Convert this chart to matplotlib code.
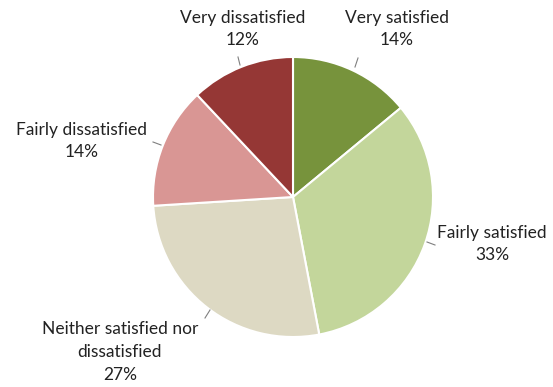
import matplotlib.pyplot as plt

labels = ["Very satisfied", "Fairly satisfied", "Neither satisfied nor\ndissatisfied",
          "Fairly dissatisfied", "Very dissatisfied"]
values = [14, 33, 27, 14, 12]
colors = ["#77933C", "#C3D69B", "#DDD9C3", "#D99694", "#953735"]

# label text centres and leader lines (pixel coords, y from top)
label_pos = [(397, 29), (492, 244), (120, 352), (82, 141), (243, 29)]
leaders = [((358, 58), (355, 67)), ((427, 242), (435, 245)), ((210, 310), (205, 318)),
           ((153, 142), (161, 145)), ((238, 57), (240, 65))]

W, H = 553, 387
fig = plt.figure(figsize=(W / 100, H / 100), dpi=100)
ax = fig.add_axes([0, 0, 1, 1])

ax.pie(values, colors=colors, startangle=90, counterclock=False,
       center=(293, H - 197), radius=140,
       wedgeprops=dict(edgecolor="white", linewidth=1.5))

# pie() resets the limits, so set them afterwards
ax.set_xlim(0, W)
ax.set_ylim(0, H)
ax.set_aspect("equal")
ax.axis("off")

for lab, v, (x, y) in zip(labels, values, label_pos):
    ax.text(x, H - y, f"{lab}\n{v}%", ha="center", va="center",
            fontsize=12.5, family="Lato", color="#222222", linespacing=1.5)

for (a, b) in leaders:
    ax.plot([a[0], b[0]], [H - a[1], H - b[1]], color="#7f7f7f", lw=0.8)

fig.savefig("out.png", dpi=100)
